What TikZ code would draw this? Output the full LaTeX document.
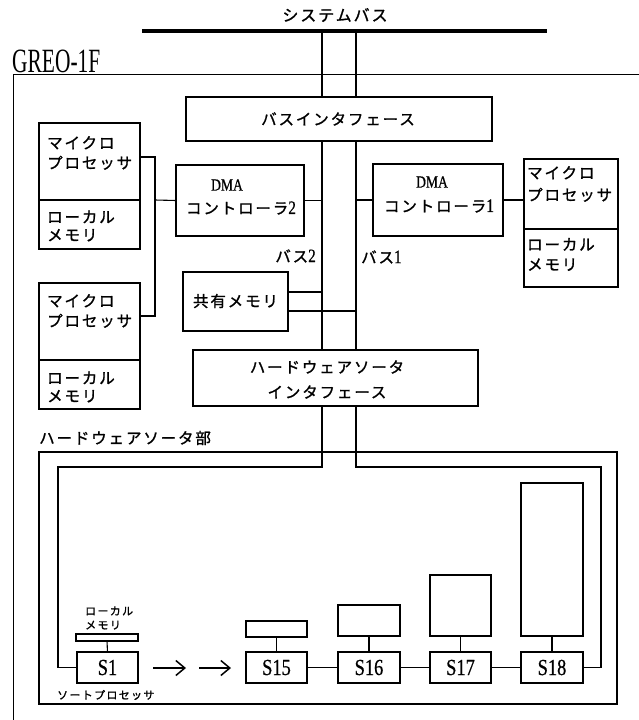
\documentclass[tikz,border=0pt]{standalone}
\usepackage{fontspec}
\setmainfont{Liberation Serif}
\newfontfamily\jp[LetterSpace=12,FakeBold=1.2]{Noto Sans CJK JP}
\newfontfamily\cserif[FakeStretch=0.8,FakeBold=0.6]{Liberation Serif}
\newfontfamily\gserif[FakeStretch=0.63]{Liberation Serif}
\newcommand{\dg}[1]{{\cserif\fontsize{19}{20}\selectfont #1}}
\usetikzlibrary{arrows.meta}
\begin{document}
\begin{tikzpicture}[x=1pt,y=-1pt,
  box/.style={draw,line width=1.6pt,inner sep=0pt,outer sep=0pt},
  ln/.style={line width=1.1pt},
  jt/.style={font=\jp\fontsize{15.5}{20}\selectfont,inner sep=0pt,align=left},
  jts/.style={font=\jp\fontsize{11}{14}\selectfont,inner sep=0pt,align=left},
  st/.style={font=\cserif\fontsize{23}{23}\selectfont,inner sep=0pt},
  dt/.style={font=\cserif\fontsize{17}{17}\selectfont,inner sep=0pt},
  arr/.style={line width=1.5pt,-{Straight Barb[length=9pt,width=15pt]}}
]
\useasboundingbox (0,0) rectangle (639,720);
\fill[white] (0,0) rectangle (639,720);

% system bus
\coordinate (sbl) at (142,31);
\coordinate (sbr) at (547,31);
\draw[line width=4.5pt] (sbl) -- (sbr);
\node[jt,font=\jp\fontsize{16}{20}\selectfont] (sbt) at (335,15) {システムバス};

% GREO-1F outer frame
\node[inner sep=0pt,anchor=base west,font=\gserif\fontsize{34}{34}\selectfont] (greo) at (12,72) {GREO-1F};
\coordinate (ob1) at (13,720);
\coordinate (ob2) at (13,74);
\coordinate (ob3) at (639,74);
\draw[line width=1pt] (ob1) -- (ob2) -- (ob3);

% boxes
\node[box,minimum width=306pt,minimum height=44pt] (busif) at (339,119) {};
\node[jt] (busift) at (338,119) {バスインタフェース};

\node[box,minimum width=101pt,minimum height=77pt] (mp1) at (89.5,161.5) {};
\node[box,minimum width=101pt,minimum height=49pt] (lm1) at (89.5,224.5) {};
\node[jt,anchor=west] (mp1t) at (47,153) {マイクロ\\プロセッサ};
\node[jt,anchor=west,font=\jp\fontsize{15.5}{18}\selectfont] (lm1t) at (47,226) {ローカル\\メモリ};

\node[box,minimum width=101pt,minimum height=77pt] (mp2) at (89.5,321.5) {};
\node[box,minimum width=101pt,minimum height=49pt] (lm2) at (89.5,384.5) {};
\node[jt,anchor=west] (mp2t) at (47,311) {マイクロ\\プロセッサ};
\node[jt,anchor=west,font=\jp\fontsize{15.5}{18}\selectfont] (lm2t) at (47,387) {ローカル\\メモリ};

\node[box,minimum width=94pt,minimum height=70pt] (mp3) at (571,194) {};
\node[box,minimum width=94pt,minimum height=58pt] (lm3) at (571,258) {};
\node[jt,anchor=west,font=\jp\fontsize{15.5}{22}\selectfont] (mp3t) at (527,184) {マイクロ\\プロセッサ};
\node[jt,anchor=west] (lm3t) at (527,254.5) {ローカル\\メモリ};

\node[box,minimum width=128pt,minimum height=71pt] (dma2) at (240,200.5) {};
\node[dt] (dma2a) at (227,185) {DMA};
\node[jt] (dma2b) at (241,208) {コントローラ\dg{2}};

\node[box,minimum width=130pt,minimum height=72pt] (dma1) at (438,200) {};
\node[dt] (dma1a) at (432,182) {DMA};
\node[jt] (dma1b) at (439,206) {コントローラ\dg{1}};

\node[box,minimum width=105pt,minimum height=59pt] (shm) at (235.5,301.5) {};
\node[jt] (shmt) at (235.5,301) {共有メモリ};

\node[jt,anchor=east] (bus2t) at (316,256) {バス\dg{2}};
\node[jt,anchor=west] (bus1t) at (361,257) {バス\dg{1}};

\node[box,minimum width=285pt,minimum height=56pt] (hwif) at (335.5,378) {};
\node[jt,align=center,font=\jp\fontsize{15.5}{25}\selectfont] (hwift) at (327,379.5) {ハードウェアソータ\\インタフェース};

% hardware sorter part
\node[jt,anchor=west] (hwpt) at (39,438) {ハードウェアソータ部};
\node[box,line width=1.3pt,minimum width=578pt,minimum height=252pt] (sorter) at (328,578) {};

\node[box,minimum width=61pt,minimum height=31pt,st] (S1) at (107.5,667.5) {S1};
\node[box,minimum width=61pt,minimum height=31pt,st] (S15) at (276.5,667.5) {S15};
\node[box,minimum width=62pt,minimum height=31pt,st] (S16) at (369,667.5) {S16};
\node[box,minimum width=61pt,minimum height=31pt,st] (S17) at (460.5,667.5) {S17};
\node[box,minimum width=62pt,minimum height=31pt,st] (S18) at (552,667.5) {S18};

\node[box,line width=1.3pt,minimum width=62pt,minimum height=7pt] (m1) at (107,637.5) {};
\node[box,minimum width=61pt,minimum height=16pt] (m15) at (276.5,629) {};
\node[box,minimum width=62pt,minimum height=31pt] (m16) at (369,620.5) {};
\node[box,minimum width=61pt,minimum height=61pt] (m17) at (460.5,605.5) {};
\node[box,minimum width=62pt,minimum height=153pt] (m18) at (552,559.5) {};

\node[jts,anchor=west] (m1t) at (85,618) {ローカル\\メモリ};
\node[jts,anchor=west] (S1t) at (57,695) {ソートプロセッサ};

% bus lines
\coordinate (b2) at (322,31);
\coordinate (b1) at (356,31);
\draw[ln] (b2) -- (b2 |- busif.north);
\draw[ln] (b1) -- (b1 |- busif.north);
\draw[ln] (b2 |- busif.south) -- (b2 |- hwif.north);
\draw[ln] (b1 |- busif.south) -- (b1 |- hwif.north);

% DMA / processors
\coordinate (p1) at (140,157);
\coordinate (p2) at (140,316);
\coordinate (pj) at (155,200);
\draw[ln] (p1) -| (pj) |- (p2);
\draw[ln] (pj) -- (dma2.west);
\draw[ln] (dma2.east) -- (dma2.east -| b2);
\draw[ln] (dma1.west -| b1) -- (dma1.west);
\draw[ln] (dma1.east) -- (dma1.east -| mp3.west);

% shared memory
\draw[ln] (shm.east |- 0,292) -- (b2 |- 0,292);
\draw[ln] (shm.east |- 0,311) -- (b1 |- 0,311);

% sorter loop
\coordinate (lp2) at (58,467);
\coordinate (lp1) at (601,467);
\draw[ln] (b2 |- hwif.south) |- (lp2) |- (S1.west);
\draw[ln] (b1 |- hwif.south) |- (lp1) |- (S18.east);

\draw[ln] (S15.east) -- (S16.west);
\draw[ln] (S16.east) -- (S17.west);
\draw[ln] (S17.east) -- (S18.west);
\draw[ln] (m1.south) -- (S1.north);
\draw[ln] (m15.south) -- (S15.north);
\draw[ln] (m16.south) -- (S16.north);
\draw[ln] (m17.south) -- (S17.north);
\draw[ln] (m18.south) -- (S18.north);

\coordinate (a1s) at (153,668);
\coordinate (a1e) at (186,668);
\coordinate (a2s) at (199,668);
\coordinate (a2e) at (231,668);
\draw[arr] (a1s) -- (a1e);
\draw[arr] (a2s) -- (a2e);
\end{tikzpicture}
\end{document}
